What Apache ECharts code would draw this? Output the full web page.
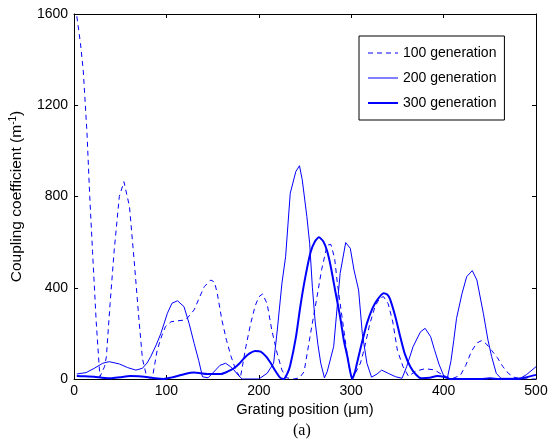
<!DOCTYPE html>
<html>
<head>
<meta charset="utf-8">
<script src="https://cdn.jsdelivr.net/npm/echarts@6/dist/echarts.min.js"></script>
<style>
html,body{margin:0;padding:0;background:#fff;}
#chart{width:557px;height:443px;}
</style>
</head>
<body>
<div id="chart"></div>
<script>
// Grating position (um) and coupling coefficient (1/m)
var x100 = [3,7,10,14,17,20,24,28,33,35,39,43.5,49,54,60,65,70.6,74,78,82,85,90,95,99,105,112,121,130,136,141,148,152,155,160,165,170,175,180,186,191,196,200,204,209,214,220,225,230,238,244,249,256,263,268,274,278,282,285,290,295,298,301,305,310,314,320,326,331,335,340,345,350,356,362,370,380,390,396,403,410,418,424,430,436,441,446,452,458,464,470,476,485,500];
var y100 = [1590,1470,1350,1080,800,560,250,10,54,98,330,566,800,865,756,522,244,90,20,3,10,127,190,230,251,255,259,303,360,405,434,425,376,259,170,98,40,5,142,240,320,360,373,330,215,110,39,5,0,5,32,200,361,480,587,590,530,420,273,127,50,5,30,70,130,240,320,355,361,330,250,125,55,12,35,45,40,25,10,3,15,60,120,158,168,155,125,95,55,25,8,0,0];

var x200 = [3,13,22,31,38,49,58,67,74,79,83,89,94,101,106,112,119,124.5,130,135,139,145,151,158,164,169,173,178,182,200,209,216,220,225,229,234,240,244,247,252,255,258,261,264,267,271,274,281,288,294,299,303,308,312,317,322,328,333,340,348,355,360,367,375,380,386,390,395,400,404,408,411,414,420,425,431,436,443,448,452,457,462,483,490,500];
var y200 = [22,28,47,69,76,66,50,39,47,70,98,150,200,288,332,343,317,244,156,80,10,5,30,60,69,55,40,15,0,0,25,69,215,420,536,814,909,935,873,712,595,400,250,150,70,5,32,142,463,598,573,478,390,200,69,8,22,39,25,10,3,54,142,207,222,185,130,65,15,3,80,170,266,376,449,475,434,288,171,98,25,3,3,20,54];

var x300 = [3,12,22,30,40,50,61,70,76,88,97,105,112,120,130,137,144,152,159,166,173,179,184,190,196,202,208,213,218,223,227,231,234,240,245,250,256,261,265,270,274,278,283,288,292,296,299,301,304,306,311,317,323,328,335,339,342,348,353,358,364,370,376,385,393,400,407,440,450,460,480,490,500];
var y300 = [13,12,10,6,3,8,13,12,10,3,0,6,13,22,28,25,22,22,22,32,47,68,91,112,123,120,98,69,35,6,0,25,60,180,320,440,556,605,621,602,560,490,380,273,170,95,30,0,30,65,150,244,310,346,376,370,350,270,186,110,54,20,3,5,13,10,0,0,3,0,0,8,18];

var seriesNames = ['100 generation','200 generation','300 generation'];
var xTicks = [0,100,200,300,400,500];
var yTicks = [0,400,800,1200,1600];

function pairs(xs, ys){ return xs.map(function(x,i){ return [x, ys[i]]; }); }
function plain(v){ return String(v); }

var FONT = '"Liberation Sans", Arial, sans-serif';
var blue = '#0000ff';
var chart = echarts.init(document.getElementById('chart'), null, {renderer:'canvas'});

var axisCommon = {
  type:'value',
  axisLine:{show:true, onZero:false, lineStyle:{color:'#000', width:1}},
  axisTick:{show:true, inside:true, length:4, lineStyle:{color:'#000', width:1}},
  splitLine:{show:false}
};

chart.setOption({
  animation:false,
  backgroundColor:'#fff',
  grid:{left:73, right:21, top:14, bottom:64, containLabel:false},
  xAxis:[
    Object.assign({}, axisCommon, {
      min:xTicks[0], max:xTicks[xTicks.length-1], interval:100, position:'bottom',
      axisLabel:{color:'#000', fontSize:14, fontFamily:FONT, margin:5, formatter:plain},
      name:'Grating position (\u03bcm)', nameLocation:'middle', nameGap:23,
      nameTextStyle:{color:'#000', fontSize:14.7, fontFamily:FONT}
    }),
    Object.assign({}, axisCommon, {
      min:xTicks[0], max:xTicks[xTicks.length-1], interval:100, position:'top',
      axisLabel:{show:false}
    })
  ],
  yAxis:[
    Object.assign({}, axisCommon, {
      min:yTicks[0], max:yTicks[yTicks.length-1], interval:400, position:'left',
      axisLabel:{color:'#000', fontSize:14, fontFamily:FONT, margin:6, formatter:plain},
      name:'Coupling coefficient (m{sup|-1})', nameLocation:'middle', nameGap:43,
      nameTextStyle:{color:'#000', fontSize:15.5, fontFamily:FONT, lineHeight:18,
        rich:{sup:{fontSize:10, fontFamily:FONT, color:'#000', verticalAlign:'top', lineHeight:10}}}
    }),
    Object.assign({}, axisCommon, {
      min:yTicks[0], max:yTicks[yTicks.length-1], interval:400, position:'right',
      axisLabel:{show:false}
    })
  ],
  legend:{
    orient:'vertical', left:359, top:36,
    padding:[10,8,10,8], itemGap:11, itemWidth:30, itemHeight:14,
    backgroundColor:'#fff', borderColor:'#000', borderWidth:1, borderRadius:0,
    textStyle:{color:'#000', fontSize:14, fontFamily:FONT},
    data:[
      {name:seriesNames[0], itemStyle:{opacity:0}, lineStyle:{color:blue, width:1, type:[5,4]}},
      {name:seriesNames[1], itemStyle:{opacity:0}, lineStyle:{color:blue, width:1, type:'solid'}},
      {name:seriesNames[2], itemStyle:{opacity:0}, lineStyle:{color:blue, width:2, type:'solid'}}
    ]
  },
  series:[
    {name:seriesNames[0], type:'line', data:pairs(x100,y100), symbol:'none', showSymbol:false,
      lineStyle:{color:blue, width:1, type:[5,4]}, itemStyle:{color:blue}, z:3},
    {name:seriesNames[1], type:'line', data:pairs(x200,y200), symbol:'none', showSymbol:false,
      lineStyle:{color:blue, width:1}, itemStyle:{color:blue}, z:2},
    {name:seriesNames[2], type:'line', data:pairs(x300,y300), symbol:'none', showSymbol:false, smooth:0.2,
      lineStyle:{color:blue, width:2}, itemStyle:{color:blue}, z:4}
  ],
  graphic:[
    {type:'text', left:293, top:423, style:{text:'(a)', fill:'#000', font:'16px "Liberation Serif", "Times New Roman", serif'}}
  ]
});
</script>
</body>
</html>
